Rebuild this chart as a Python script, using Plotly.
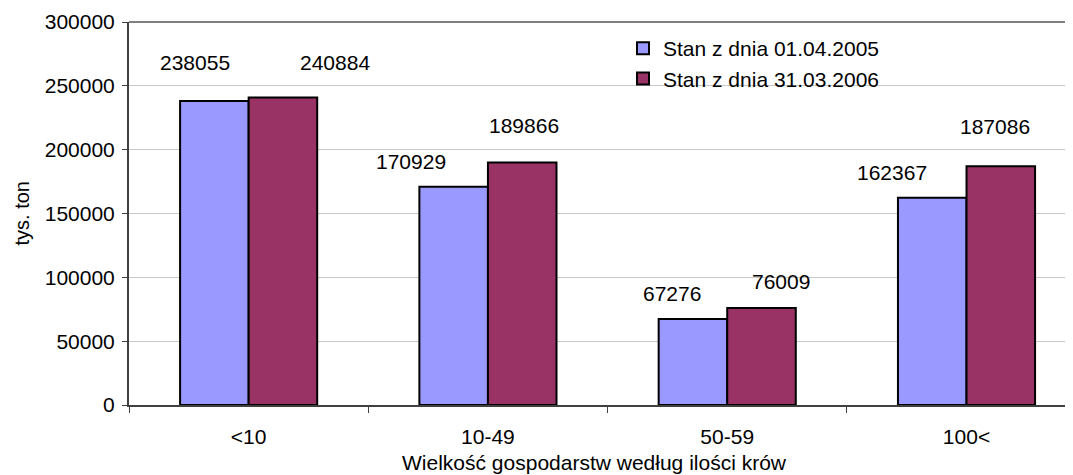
import plotly.graph_objects as go

categories = ["<10", "10-49", "50-59", "100<"]
series_names = ["Stan z dnia 01.04.2005", "Stan z dnia 31.03.2006"]
values_2005 = [238055, 170929, 67276, 162367]
values_2006 = [240884, 189866, 76009, 187086]
y_ticks = [0, 50000, 100000, 150000, 200000, 250000, 300000]

colors = ["#9999FF", "#993366"]
FONT = "Liberation Sans, Arial, sans-serif"
FS = 21

# page body has an 8px margin; figure sized to fit the 1073x475 window
W, H = 1065, 467
ML, MT = 121, 14          # plot area left/top in figure px
PW, PH = 944, 383         # plot area size

fig = go.Figure()
for name, vals, col in zip(series_names, [values_2005, values_2006], colors):
    fig.add_trace(go.Bar(
        name=name, x=categories, y=vals,
        marker=dict(color=col, line=dict(color="#000000", width=2)),
    ))

# data label offsets (pixels) relative to each bar's top-centre, mimicking Excel placement
bar_off = 34.3
lab_dx = [[-19, -43, -21, -40], [52, 2, 19, -6]]
lab_dy = [[39, 25, 26, 25], [35, 37, 26, 40]]
annotations = []
for s, vals in enumerate([values_2005, values_2006]):
    for i, (c, v) in enumerate(zip(categories, vals)):
        annotations.append(dict(
            x=c, y=v, xref="x", yref="y", text=str(v), showarrow=False,
            xanchor="center", yanchor="middle",
            xshift=(-bar_off if s == 0 else bar_off) + lab_dx[s][i],
            yshift=lab_dy[s][i],
            font=dict(family=FONT, size=FS, color="#000000"),
        ))
annotations.append(dict(
    x=(594 - 129) / PW, y=0, xref="paper", yref="paper", yshift=-57,
    text="Wielkość gospodarstw według ilości krów", showarrow=False,
    xanchor="center", yanchor="middle", borderpad=0,
    font=dict(family=FONT, size=FS, color="#000000"),
))
annotations.append(dict(
    x=0, y=0.5, xref="paper", yref="paper", xshift=-108,
    text="tys. ton", showarrow=False, textangle=-90,
    xanchor="center", yanchor="middle", borderpad=0,
    font=dict(family=FONT, size=20, color="#000000"),
))

fig.update_layout(
    width=W, height=H,
    margin=dict(l=ML, r=W - ML - PW, t=MT, b=H - MT - PH, pad=0, autoexpand=False),
    paper_bgcolor="#FFFFFF", plot_bgcolor="#FFFFFF",
    font=dict(family=FONT, size=FS, color="#000000"),
    barmode="group", bargap=0.427, bargroupgap=0,
    showlegend=True,
    legend=dict(
        x=(623 - 129) / PW, y=1 - (28 - 22) / PH, xanchor="left", yanchor="top",
        bgcolor="rgba(255,255,255,0)", borderwidth=0,
        font=dict(family=FONT, size=FS, color="#000000"),
        tracegroupgap=0, itemsizing="constant",
    ),
    xaxis=dict(
        range=[-0.5, 3.445], showgrid=False, zeroline=False, automargin=False,
        showline=True, linecolor="#404040", linewidth=2,
        ticks="outside", tickson="boundaries", ticklen=6, tickcolor="#404040", tickwidth=1,
        ticklabelstandoff=12,
        tickfont=dict(family=FONT, size=FS, color="#000000"),
    ),
    yaxis=dict(
        range=[0, 300000], tickvals=y_ticks, ticktext=[str(t) for t in y_ticks],
        showgrid=True, gridcolor="#C8C8C8", gridwidth=1, zeroline=False, automargin=False,
        showline=True, linecolor="#404040", linewidth=2,
        ticks="outside", ticklen=5, tickcolor="#404040", tickwidth=1,
        ticklabelstandoff=3,
        tickfont=dict(family=FONT, size=FS, color="#000000"),
    ),
    annotations=annotations,
    shapes=[
        dict(type="rect", xref="x domain", yref="y domain",
             x0=(601 - 129) / PW, x1=(923 - 129) / PW,
             y0=(405 - 95) / PH, y1=(405 - 28) / PH,
             fillcolor="#FFFFFF", line=dict(width=0), layer="below"),
        dict(type="line", xref="x domain", yref="y domain",
             x0=0, x1=1, y0=1, y1=1, line=dict(color="#808080", width=2), layer="above"),
    ],
)

fig.write_html("out.html")
